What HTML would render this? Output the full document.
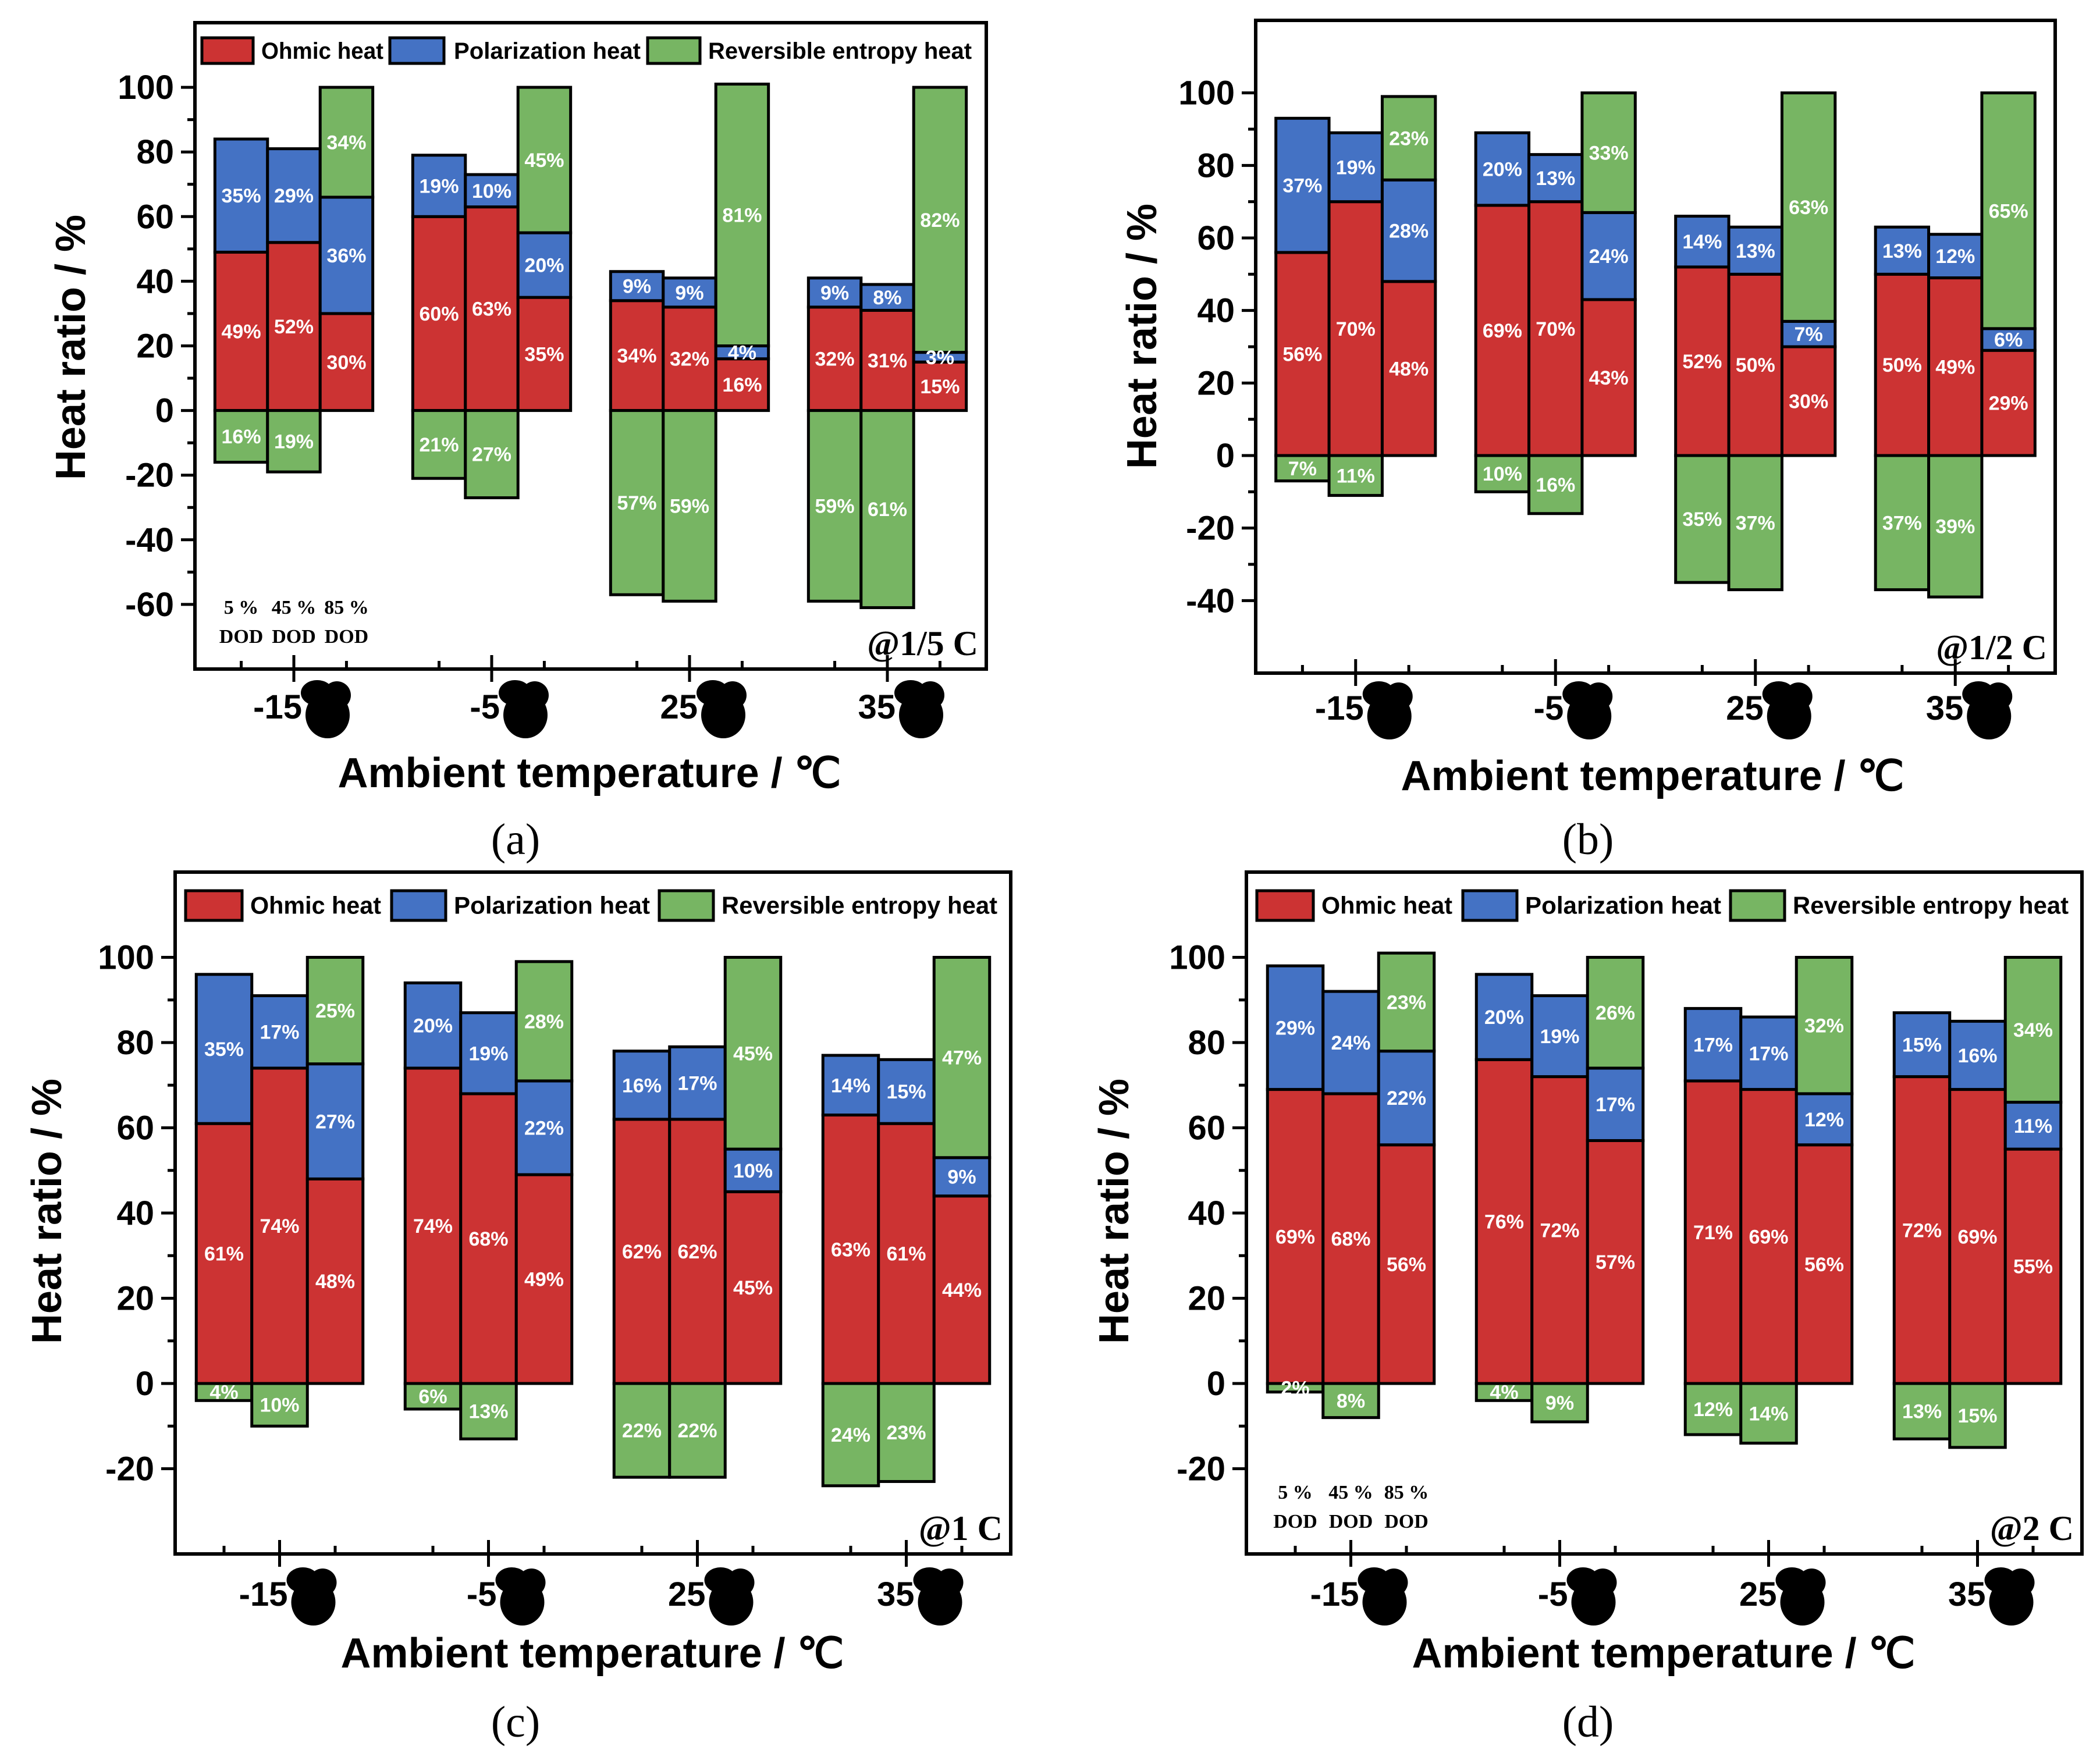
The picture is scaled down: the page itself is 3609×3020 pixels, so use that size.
<!DOCTYPE html>
<html><head><meta charset="utf-8">
<style>
html,body{margin:0;padding:0;background:#fff;}
svg{display:block;}
</style></head>
<body>
<svg id="fig" xmlns="http://www.w3.org/2000/svg" width="3609" height="3020" viewBox="0 0 3609 3020"></svg>
<script>
const categories = ["-15", "-5", "25", "35"];
const dodLabels = ["5 %", "45 %", "85 %"];
// panel (a) @1/5 C  — [group][dod]
const ohmicA = [[49,52,30],[60,63,35],[34,32,16],[32,31,15]];
const polA   = [[35,29,36],[19,10,20],[9,9,4],[9,8,3]];
const entA   = [[-16,-19,34],[-21,-27,45],[-57,-59,81],[-59,-61,82]];
const yTicksA = [-60,-40,-20,0,20,40,60,80,100];
// panel (b) @1/2 C
const ohmicB = [[56,70,48],[69,70,43],[52,50,30],[50,49,29]];
const polB   = [[37,19,28],[20,13,24],[14,13,7],[13,12,6]];
const entB   = [[-7,-11,23],[-10,-16,33],[-35,-37,63],[-37,-39,65]];
const yTicksB = [-40,-20,0,20,40,60,80,100];
// panel (c) @1 C
const ohmicC = [[61,74,48],[74,68,49],[62,62,45],[63,61,44]];
const polC   = [[35,17,27],[20,19,22],[16,17,10],[14,15,9]];
const entC   = [[-4,-10,25],[-6,-13,28],[-22,-22,45],[-24,-23,47]];
const yTicksC = [-20,0,20,40,60,80,100];
// panel (d) @2 C
const ohmicD = [[69,68,56],[76,72,57],[71,69,56],[72,69,55]];
const polD   = [[29,24,22],[20,19,17],[17,17,12],[15,16,11]];
const entD   = [[-2,-8,23],[-4,-9,26],[-12,-14,32],[-13,-15,34]];
const yTicksD = [-20,0,20,40,60,80,100];

const NS = "http://www.w3.org/2000/svg";
const svg = document.getElementById("fig");
const RED="#cc3333", BLUE="#4472c4", GREEN="#77b563";
function mk(tag, attrs, parent, text){
  const e=document.createElementNS(NS,tag);
  for(const k in attrs) e.setAttribute(k,attrs[k]);
  if(text!==undefined) e.textContent=text;
  (parent||svg).appendChild(e);
  return e;
}

const panels = [
 {id:"a", L:335,T:39,R:1695,B:1150, ymin:-80,ymax:120, ticks:yTicksA, o:ohmicA,p:polA,e:entA, legend:true, dod:true, ann:"@1/5 C", ylx:127, yly:597, xtx:1013, xty:1353, capx:886, capy:1468, tly:1235},
 {id:"b", L:2158,T:35,R:3532,B:1157, ymin:-60,ymax:120, ticks:yTicksB, o:ohmicB,p:polB,e:entB, legend:false, dod:false, ann:"@1/2 C", ylx:1968, yly:578, xtx:2840, xty:1358, capx:2729, capy:1468, tly:1237},
 {id:"c", L:301,T:1499,R:1737,B:2671, ymin:-40,ymax:120, ticks:yTicksC, o:ohmicC,p:polC,e:entC, legend:true, dod:false, ann:"@1 C", ylx:86, yly:2082, xtx:1018, xty:2866, capx:886, capy:2985, tly:2760},
 {id:"d", L:2142,T:1499,R:3578,B:2671, ymin:-40,ymax:120, ticks:yTicksD, o:ohmicD,p:polD,e:entD, legend:true, dod:true, ann:"@2 C", ylx:1920, yly:2082, xtx:2859, xty:2866, capx:2729, capy:2985, tly:2760}
];

panels.forEach(P=>{
  const g=mk("g",{});
  
  
  const W=P.R-P.L, H=P.B-P.T;
  const ys=v=>P.B-(v-P.ymin)/(P.ymax-P.ymin)*H;
  const tickX=i=>P.L+W*(2*i+1)/8;
  const bw=W*0.0665;
  const barX=(gi,bi)=>tickX(gi)+(bi-1)*bw-bw/2;

  categories.forEach((c,gi)=>{
    for(let bi=0;bi<3;bi++){
      const o=P.o[gi][bi], pz=P.p[gi][bi], en=P.e[gi][bi];
      const x=barX(gi,bi);
      const segs=[[0,o,RED,o,'ohmic'],[o,o+pz,BLUE,pz,'polarization']];
      if(en>=0) segs.push([o+pz,o+pz+en,GREEN,en,'entropy']);
      else segs.push([en,0,GREEN,-en,'entropy']);
      segs.forEach(s=>{
        const y1=ys(s[1]), y0=ys(s[0]);
        const r=mk("rect",{x:x,y:y1,width:bw,height:y0-y1,fill:s[2],stroke:"#000","stroke-width":5},g);
        
        
      });
      segs.forEach(s=>{
        const t=mk("text",{x:x+bw/2,y:(ys(s[0])+ys(s[1]))/2+12,"text-anchor":"middle","font-family":"Liberation Sans, sans-serif","font-weight":"bold","font-size":34,fill:"#fff"},g,s[3]+"%");
        
        
      });
    }
  });

  const fr=mk("rect",{x:P.L,y:P.T,width:W,height:H,fill:"none",stroke:"#000","stroke-width":6},g);
  
  

  for(let v=P.ticks[0]; v<=P.ticks[P.ticks.length-1]; v+=10){
    const major = P.ticks.indexOf(v)>=0;
    mk("line",{x1:P.L-(major?24:13),x2:P.L,y1:ys(v),y2:ys(v),stroke:"#000","stroke-width":5},g);
  }
  P.ticks.forEach(v=>{
    const t=mk("text",{x:P.L-36,y:ys(v)+20,"text-anchor":"end","font-family":"Liberation Sans, sans-serif","font-weight":"bold","font-size":58},g,String(v));
    
    
  });
  categories.forEach((c,gi)=>{
    const tx=tickX(gi);
    mk("line",{x1:tx,x2:tx,y1:P.B-24,y2:P.B+22,stroke:"#000","stroke-width":5},g);
    [-1,1].forEach(d=>mk("line",{x1:tx+d*bw,x2:tx+d*bw,y1:P.B-14,y2:P.B,stroke:"#000","stroke-width":5},g));
    const t=mk("text",{x:tx+14,y:P.tly,"text-anchor":"end","font-family":"Liberation Sans, sans-serif","font-weight":"bold","font-size":58},g,c);
    
    
    const bl=mk("g",{},g);
    
    
    mk("ellipse",{cx:tx+40,cy:P.tly-44,rx:28,ry:22},bl);
    mk("ellipse",{cx:tx+74,cy:P.tly-40,rx:24,ry:24},bl);
    mk("ellipse",{cx:tx+58,cy:P.tly-6,rx:38,ry:40},bl);
  });

  const yl=mk("text",{x:P.ylx,y:P.yly,transform:`rotate(-90 ${P.ylx} ${P.yly})`,"text-anchor":"middle","dominant-baseline":"middle","font-family":"Liberation Sans, sans-serif","font-weight":"bold","font-size":72},g,"Heat ratio / %");
  
  
  const xt=mk("text",{x:P.xtx,y:P.xty,"text-anchor":"middle","font-family":"Liberation Sans, sans-serif","font-weight":"bold","font-size":72},g);
  
  
  mk("tspan",{},xt,"Ambient temperature / ");
  mk("tspan",{"font-family":"Liberation Serif, serif"},xt,"℃");
  const cap=mk("text",{x:P.capx,y:P.capy,"text-anchor":"middle","font-family":"Liberation Serif, serif","font-size":76},g,"("+P.id+")");
  
  
  const an=mk("text",{x:P.R-14,y:P.B-24,"text-anchor":"end","font-family":"Liberation Serif, serif","font-weight":"bold","font-size":60},g,P.ann);
  
  

  if(P.dod){
    for(let bi=0;bi<3;bi++){
      const cx=barX(0,bi)+bw/2;
      const t1=mk("text",{x:cx,y:P.B-95,"text-anchor":"middle","font-family":"Liberation Serif, serif","font-weight":"bold","font-size":34},g,dodLabels[bi]);
      
      
      const t2=mk("text",{x:cx,y:P.B-45,"text-anchor":"middle","font-family":"Liberation Serif, serif","font-weight":"bold","font-size":34},g,"DOD");
      
      
    }
  }

  if(P.legend){
    let items, by, bh, fs;
    if(P.id==="a"){ by=65; bh=44; fs=40;
      items=[[347,435,449,210,RED,"Ohmic heat"],[670,763,780,321,BLUE,"Polarization heat"],[1113,1203,1217,453,GREEN,"Reversible entropy heat"]];
    } else { by=1531; bh=51; fs=42;
      const dx = P.id==="d"?1841:0;
      items=[[319+dx,416+dx,430+dx,225,RED,"Ohmic heat"],[673+dx,766+dx,780+dx,337,BLUE,"Polarization heat"],[1133+dx,1226+dx,1240+dx,474,GREEN,"Reversible entropy heat"]];
    }
    items.forEach(it=>{
      const lg=mk("g",{},g);
      
      
      mk("rect",{x:it[0],y:by,width:it[1]-it[0],height:bh,fill:it[4],stroke:"#000","stroke-width":5},lg);
      mk("text",{x:it[2],y:by+bh/2+14,textLength:it[3],lengthAdjust:"spacingAndGlyphs","font-family":"Liberation Sans, sans-serif","font-weight":"bold","font-size":fs},lg,it[5]);
    });
  }
});
</script>
</body></html>
